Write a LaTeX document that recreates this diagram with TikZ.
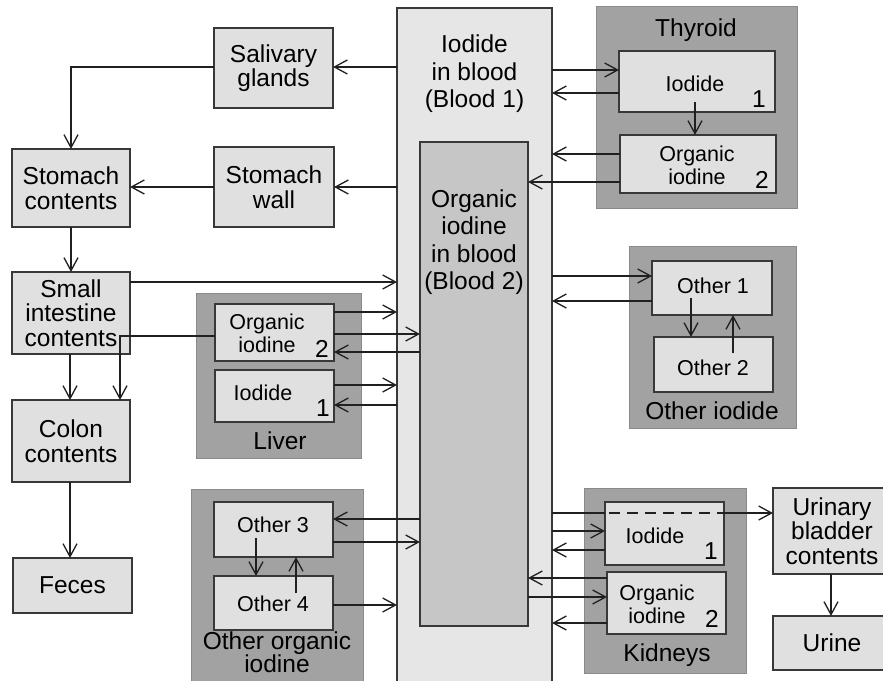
\documentclass[tikz,border=0pt]{standalone}
\usepackage{fontspec}
\setmainfont{Liberation Sans}
\usetikzlibrary{arrows.meta,calc}
\definecolor{boxfill}{HTML}{E0E0E0}
\definecolor{bloodfill}{HTML}{E6E6E6}
\definecolor{grpfill}{HTML}{A2A2A2}
\definecolor{btwofill}{HTML}{C6C6C6}
\definecolor{edgecol}{HTML}{383838}
\definecolor{linecol}{HTML}{202020}
\newcommand{\mainf}{\fontsize{24.5}{24.5}\selectfont}
\newcommand{\tightf}{\fontsize{24.5}{23}\selectfont}
\newcommand{\bloodf}{\fontsize{24.5}{27.5}\selectfont}
\newcommand{\smallf}{\fontsize{21.5}{23}\selectfont}
\newcommand{\mybox}[7]{\node[#1, anchor=north west, minimum width={#5-#3}, minimum height={#6-#4}] (#2) at (#3,#4) {#7};}
\begin{document}
\begin{tikzpicture}[x=1pt,y=-1pt,
  every node/.style={inner sep=0pt, outer sep=0pt, align=center, text=black},
  box/.style={rectangle, draw=edgecol, line width=1.4pt, fill=boxfill, font=\mainf},
  grp/.style={rectangle, draw=grpfill!85!black, line width=1pt, fill=grpfill},
  bloodone/.style={rectangle, draw=edgecol, line width=1.4pt, fill=bloodfill},
  bloodtwo/.style={rectangle, draw=edgecol, line width=1.4pt, fill=btwofill},
  lbl/.style={font=\mainf},
  blbl/.style={font=\bloodf},
  slbl/.style={font=\smallf},
  ln/.style={draw=linecol, line width=1.3pt},
  arr/.style={ln, -{Straight Barb[length=13pt,width=14pt,line width=1.3pt]}},
]
\useasboundingbox (0,0) rectangle (883,680);
\clip (0,0) rectangle (883,680);
\fill[white] (0,0) rectangle (883,680);

% groups
\mybox{grp}{thy}{596}{6}{797}{208}{}
\mybox{grp}{liv}{196}{293}{361}{458}{}
\mybox{grp}{ooi}{191}{489}{363}{720}{}
\mybox{grp}{oio}{629}{246}{796}{428}{}
\mybox{grp}{kid}{584}{488}{746}{673}{}
\node[lbl] (thyl) at (696,30) {Thyroid};
\node[lbl] (livl) at (280,441) {Liver};
\node[font=\tightf] (ooil) at (277,652) {Other organic\\iodine};
\node[lbl] (oiol) at (712,411) {Other iodide};
\node[lbl] (kidl) at (667,655) {Kidneys};

% blood compartments
\mybox{bloodone}{b1}{397}{8}{552}{720}{}
\node[blbl] (b1t) at (474.5,74) {Iodide\\in blood\\(Blood 1)};
\mybox{bloodtwo}{b2}{420}{142}{528}{626}{}
\node[blbl] (b2t) at (474,242) {Organic\\iodine\\in blood\\(Blood 2)};

% thyroid
\mybox{box}{ti}{619}{51}{775}{112}{}
\node[slbl] (tit) at (695,84) {Iodide};
\node[lbl] (tin) at (759,99) {1};
\mybox{box}{to}{620}{135}{776}{193}{}
\node[slbl] (tot) at (697,165) {Organic\\iodine};
\node[lbl] (ton) at (762,180) {2};

% liver
\mybox{box}{lo}{215}{304}{334}{361}{}
\node[slbl] (lot) at (267,333) {Organic\\iodine};
\node[lbl] (lon) at (322,349) {2};
\mybox{box}{li}{215}{370}{334}{422}{}
\node[slbl] (lit) at (263,393) {Iodide};
\node[lbl] (lin) at (323,408) {1};

% other organic iodine
\mybox{box}{o3}{214}{502}{333}{557}{}
\node[slbl] (o3t) at (273,525) {Other 3};
\mybox{box}{o4}{214}{576}{333}{630}{}
\node[slbl] (o4t) at (273,604) {Other 4};

% other iodide
\mybox{box}{o1}{652}{261}{772}{315}{}
\node[slbl] (o1t) at (713,286) {Other 1};
\mybox{box}{o2}{654}{337}{773}{392}{}
\node[slbl] (o2t) at (713,368) {Other 2};

% kidneys
\mybox{box}{ki}{605}{502}{724}{565}{}
\node[slbl] (kit) at (655,536) {Iodide};
\node[lbl] (kin) at (711,551) {1};
\mybox{box}{ko}{607}{572}{726}{634}{}
\node[slbl] (kot) at (657,604) {Organic\\iodine};
\node[lbl] (kon) at (712,619) {2};

% gut and excretion
\mybox{box}{sal}{214}{28}{333}{108}{Salivary\\glands}
\mybox{box}{sw}{214}{147}{334}{227}{Stomach\\wall}
\mybox{box}{sc}{12}{149}{130}{227}{Stomach\\contents}
\mybox{box}{si}{12}{272}{130}{354}{Small\\intestine\\contents}
\mybox{box}{col}{12}{400}{130}{482}{Colon\\contents}
\mybox{box}{fec}{13}{558}{132}{613}{Feces}
\mybox{box}{ub}{773}{488}{891}{574}{Urinary\\bladder\\contents}
\mybox{box}{ur}{773}{616}{891}{670}{Urine}

% connectors: gut
\draw[arr] (b1.west |- 0,67) -- (sal.east |- 0,67);
\draw[arr] (b1.west |- 0,187) -- (sw.east |- 0,187);
\draw[arr] (sal.west |- 0,67) -| (sc.north);
\draw[arr] (sw.west |- 0,187) -- (sc.east |- 0,187);
\draw[arr] (sc.south) -- (si.north);
\draw[arr] (si.east |- 0,282) -- (b1.west |- 0,282);
\draw[arr] (si.south -| 70,0) -- (col.north -| 70,0);
\draw[arr] (lo.west |- 0,336) -| (col.north -| 120,0);
\draw[arr] (col.south -| 70,0) -- (fec.north -| 70,0);

% liver
\draw[arr] (lo.east |- 0,312) -- (b1.west |- 0,312);
\draw[arr] (lo.east |- 0,334) -- (b2.west |- 0,334);
\draw[arr] (b2.west |- 0,352) -- (lo.east |- 0,352);
\draw[arr] (li.east |- 0,385) -- (b1.west |- 0,385);
\draw[arr] (b1.west |- 0,405) -- (li.east |- 0,405);

% other organic iodine
\draw[arr] (b2.west |- 0,519) -- (o3.east |- 0,519);
\draw[arr] (o3.east |- 0,542) -- (b2.west |- 0,542);
\draw[arr] (o4.east |- 0,605) -- (b1.west |- 0,605);
\draw[arr] ($(o3.south -| 256,0)+(0,-19)$) -- (o4.north -| 256,0);
\draw[arr] ($(o4.north -| 296,0)+(0,17)$) -- (o3.south -| 296,0);

% thyroid
\draw[arr] (b1.east |- 0,70) -- (ti.west |- 0,70);
\draw[arr] (ti.west |- 0,93) -- (b1.east |- 0,93);
\draw[arr] ($(ti.south -| 695,0)+(0,-10)$) -- (to.north -| 695,0);
\draw[arr] (to.west |- 0,154) -- (b1.east |- 0,154);
\draw[arr] (to.west |- 0,182) -- (b2.east |- 0,182);

% other iodide
\draw[arr] (b1.east |- 0,276) -- (o1.west |- 0,276);
\draw[arr] (o1.west |- 0,301) -- (b1.east |- 0,301);
\draw[arr] ($(o1.south -| 691,0)+(0,-17)$) -- (o2.north -| 691,0);
\draw[arr] ($(o2.north -| 733,0)+(0,16)$) -- (o1.south -| 733,0);

% kidneys
\draw[ln] (b1.east |- 0,513) -- (ki.west |- 0,513);
\draw[ln, dash pattern=on 11pt off 7pt, dash phase=-4pt] (ki.west |- 0,513) -- (ki.east |- 0,513);
\draw[arr] (ki.east |- 0,513) -- (ub.west |- 0,513);
\draw[arr] (b1.east |- 0,531) -- (ki.west |- 0,531);
\draw[arr] (ki.west |- 0,550) -- (b1.east |- 0,550);
\draw[arr] (ko.west |- 0,578) -- (b2.east |- 0,578);
\draw[arr] (b2.east |- 0,597) -- (ko.west |- 0,597);
\draw[arr] (ko.west |- 0,623) -- (b1.east |- 0,623);
\draw[arr] (ub.south -| 831,0) -- (ur.north -| 831,0);
\end{tikzpicture}
\end{document}
